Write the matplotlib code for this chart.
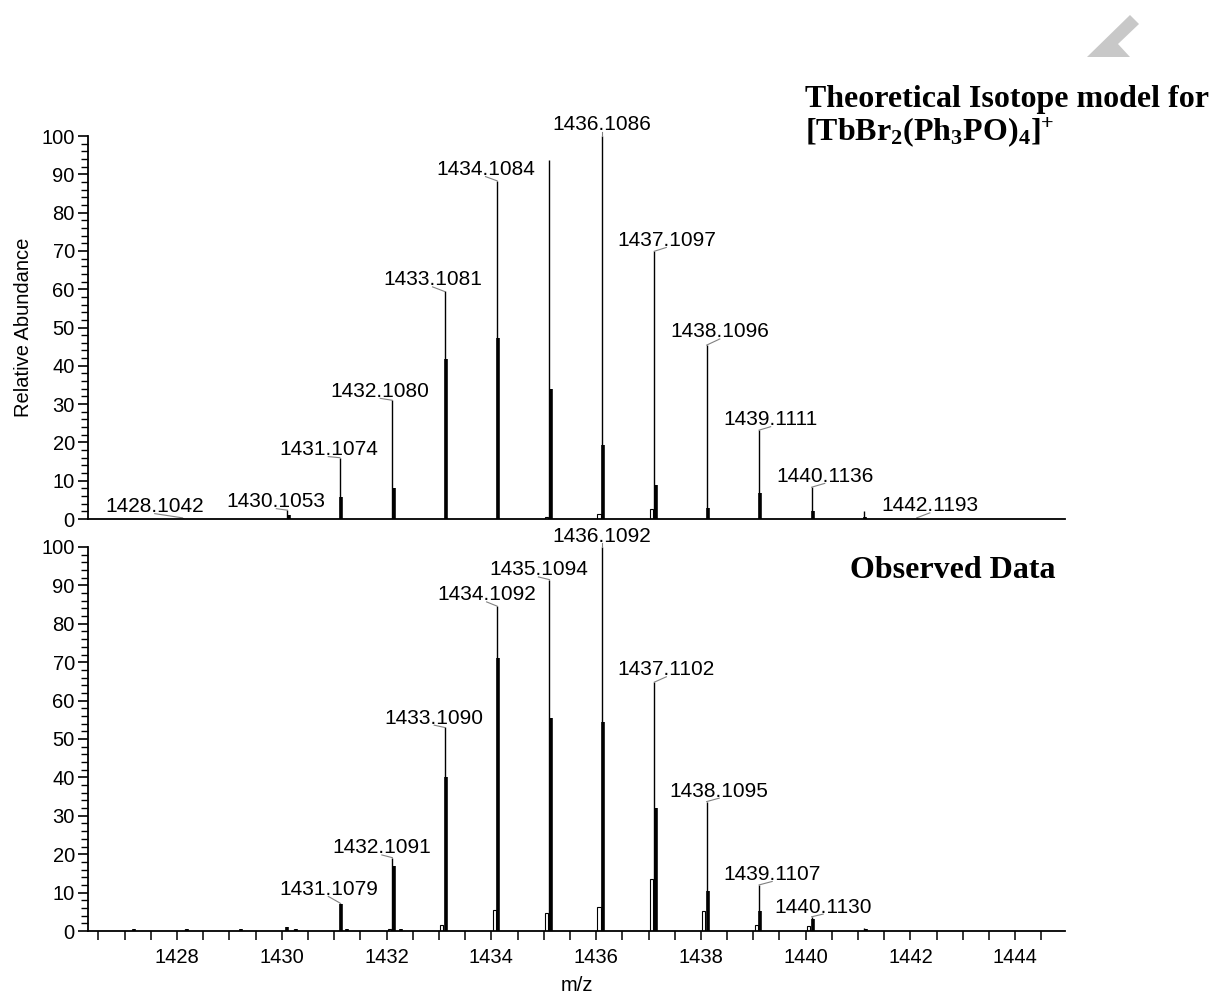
import matplotlib
matplotlib.use("Agg")
import matplotlib.pyplot as plt
from matplotlib.patches import Polygon
from matplotlib.ticker import MultipleLocator

plt.rcParams['font.family'] = ['Liberation Sans', 'DejaVu Sans']
plt.rcParams['mathtext.fontset'] = 'custom'
plt.rcParams['mathtext.rm'] = 'Liberation Serif:bold'
plt.rcParams['mathtext.it'] = 'Liberation Serif:bold'
plt.rcParams['mathtext.bf'] = 'Liberation Serif:bold'

# ---------------- data ----------------
# Theoretical isotope model
theo_mz = [1428.1042, 1430.1053, 1431.1074, 1432.1080, 1433.1081, 1434.1084, 1435.1090,
           1436.1086, 1437.1097, 1438.1096, 1439.1111, 1440.1136, 1441.1150, 1442.1193]
theo_main = [0.3, 2.3, 16.0, 31.0, 59.4, 88.3, 93.7, 100.0, 69.9, 45.4, 23.2, 8.3, 2.0, 0.3]
theo_sub = [0.0, 1.0, 5.8, 8.2, 41.9, 47.2, 33.9, 19.3, 8.9, 2.9, 6.7, 2.0, 0.6, 0.0]
theo_side = [0.0, 0.0, 0.0, 0.0, 0.0, 0.0, 0.5, 1.3, 2.6, 0.0, 0.0, 0.0, 0.0, 0.0]
theo_labels = ['1428.1042', '1430.1053', '1431.1074', '1432.1080', '1433.1081', '1434.1084', None,
               '1436.1086', '1437.1097', '1438.1096', '1439.1111', '1440.1136', None, '1442.1193']

# Observed data
obs_mz = [1427.16, 1428.16, 1429.20, 1430.08, 1430.24, 1431.1079, 1431.22, 1432.1091, 1432.25,
          1433.1090, 1434.1092, 1435.1094, 1436.1092, 1437.1102, 1438.1095, 1439.1107,
          1440.1130, 1441.12]
obs_main = [0.6, 0.6, 0.6, 1.1, 0.6, 7.3, 0.5, 19.1, 0.4, 53.0, 84.6, 91.5, 100.0, 64.8, 33.7,
            12.0, 3.7, 0.8]
obs_sub = [0.6, 0.6, 0.6, 1.0, 0.6, 7.0, 0.5, 16.9, 0.4, 40.1, 71.2, 55.5, 54.3, 32.1, 10.4,
           5.2, 3.0, 0.6]
obs_side = [0.0, 0.0, 0.0, 0.0, 0.0, 0.0, 0.0, 0.5, 0.0, 1.5, 5.4, 4.7, 6.3, 13.6, 5.2,
            1.6, 1.3, 0.0]
obs_labels = [None, None, None, None, None, '1431.1079', None, '1432.1091', None,
              '1433.1090', '1434.1092', '1435.1094', '1436.1092', '1437.1102', '1438.1095',
              '1439.1107', '1440.1130', None]

x_major = [1428, 1430, 1432, 1434, 1436, 1438, 1440, 1442, 1444]
y_major = [0, 10, 20, 30, 40, 50, 60, 70, 80, 90, 100]

# ---------------- layout (label offsets: dx in m/z, dy in abundance) ----------------
theo_dx = [-0.53, -0.21, -0.22, -0.23, -0.23, -0.22, 0, 0.0, 0.23, 0.25, 0.22, 0.25, 0, 0.25]
theo_dy = [1.5, 0.8, 0.7, 0.9, 1.6, 1.5, 0, 1.5, 1.4, 2.0, 1.3, 1.4, 0, 1.7]
obs_dx = [0, 0, 0, 0, 0, -0.22, 0, -0.20, 0, -0.20, -0.20, -0.21, 0.0, 0.23, 0.24, 0.25, 0.22, 0]
obs_dy = [0, 0, 0, 0, 0, 2.1, 0, 1.1, 0, 1.0, 1.5, 1.1, 1.4, 1.8, 1.3, 1.3, 1.1, 0]

W, H = 1212, 997
fig = plt.figure(figsize=(W / 100, H / 100), dpi=100)
ax1 = fig.add_axes([88 / W, 1 - 519 / H, 977 / W, 383 / H])
ax2 = fig.add_axes([88 / W, 1 - 931 / H, 977 / W, 384 / H])

LABEL_FS = 15
TICK_FS = 14.5


def draw(ax, mz, main, sub, side, labels, dx, dy):
    ax.vlines(mz, 0, main, colors='black', lw=1.0)
    ax.vlines([m + 0.025 for m in mz], 0, sub, colors='black', lw=2.6)
    ax.bar([m - 0.055 for m in mz], side, width=0.06, fill=False, edgecolor='black', lw=0.8)
    for m, h, lab, ddx, ddy in zip(mz, main, labels, dx, dy):
        if lab is None:
            continue
        tx, ty = m + ddx, h + ddy
        ax.text(tx, ty, lab, ha='center', va='baseline', fontsize=LABEL_FS, clip_on=False)
        ax.plot([tx, m], [ty - 0.4, h], color='#808080', lw=0.8, clip_on=False)


draw(ax1, theo_mz, theo_main, theo_sub, theo_side, theo_labels, theo_dx, theo_dy)
draw(ax2, obs_mz, obs_main, obs_sub, obs_side, obs_labels, obs_dx, obs_dy)

for ax in (ax1, ax2):
    ax.set_facecolor('none')
    ax.set_xlim(1426.3, 1444.95)
    ax.set_ylim(0, 100)
    for s in ('top', 'right'):
        ax.spines[s].set_visible(False)
    for s in ('left', 'bottom'):
        ax.spines[s].set_linewidth(1.3)
    ax.set_yticks(y_major)
    ax.yaxis.set_minor_locator(MultipleLocator(2))
    ax.tick_params(axis='y', which='major', direction='out', length=7.5, width=1.2,
                   labelsize=TICK_FS, pad=2)
    ax.tick_params(axis='y', which='minor', direction='out', length=5, width=1.0)

ax1.tick_params(axis='x', which='both', bottom=False, labelbottom=False)
ax2.set_xticks(x_major)
ax2.xaxis.set_minor_locator(MultipleLocator(0.5))
ax2.tick_params(axis='x', which='both', direction='out', length=6.5, width=1.1,
                labelsize=TICK_FS, pad=6)

ax1.set_ylabel('Relative Abundance', fontsize=TICK_FS, labelpad=6)
ax2.set_xlabel('m/z', fontsize=TICK_FS, labelpad=6)

fig.text(805 / W, 1 - 107 / H, 'Theoretical Isotope model for', family='Liberation Serif',
         weight='bold', fontsize=23, va='baseline', ha='left')
fig.text(805 / W, 1 - 140 / H, r'[TbBr$_{2}$(Ph$_{3}$PO)$_{4}$]$^{+}$', family='Liberation Serif',
         weight='bold', fontsize=23, va='baseline', ha='left')
fig.text(1055 / W, 1 - 578 / H, 'Observed Data', family='Liberation Serif',
         weight='bold', fontsize=23, va='baseline', ha='right')

chev = [(1130, 15), (1139, 24), (1118, 44), (1130, 57), (1087, 57)]
fig.patches.append(Polygon([(x / W, 1 - y / H) for x, y in chev], closed=True,
                           transform=fig.transFigure, facecolor='#c8c8c8', edgecolor='none'))

fig.savefig('out.png', dpi=100)
